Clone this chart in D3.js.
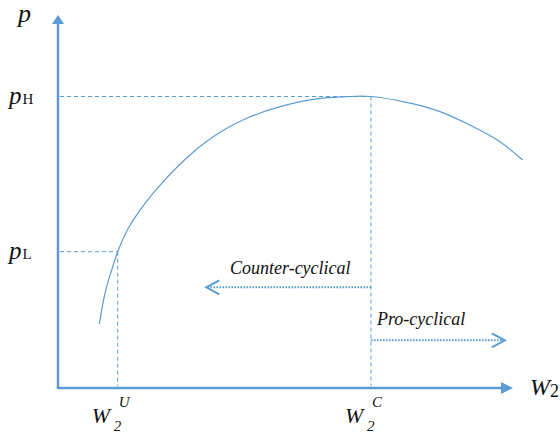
<!DOCTYPE html>
<html><head><meta charset="utf-8">
<script src="https://cdnjs.cloudflare.com/ajax/libs/d3/7.8.5/d3.min.js"></script>
<style>
html,body{margin:0;padding:0;background:#fff;}
svg{display:block;}
svg text{font-family:"Liberation Serif";}
</style></head>
<body>
<script>
// ---- data (abstract units) ----
const curveW = [9.08, 10.33, 11.80, 13.12, 15.45, 19.12, 22.79, 27.91, 34.13, 41.47, 48.79, 56.11, 63.45, 68.79, 76.64, 83.96, 91.27, 97.14, 102.13];
const curveP = [17.16, 25.39, 31.64, 36.54, 42.81, 49.52, 54.88, 61.26, 67.37, 72.31, 75.42, 77.40, 78.10, 78.15, 76.59, 74.08, 70.05, 66.03, 61.13];
const wMarks = [13.12, 68.79];          // W2^U, W2^C
const wMarkSup = ["U", "C"];
const pMarks = [78.15, 36.54];          // pH, pL
const pMarkSub = ["H", "L"];
const arrowLabels = ["Counter-cyclical", "Pro-cyclical"];
const arrowLevels = [27.0, 12.8];       // p-levels of the dotted arrows
const arrowEnds = [32.6, 98.2];         // W where arrows point to

const W = 560, H = 433;
const blue = "#5B9BD5";
const SERIF = "Liberation Serif";
const svg = d3.select("body").append("svg").attr("width", W).attr("height", H);

const x = d3.scaleLinear().domain([0, 100]).range([58, 513]);
const y = d3.scaleLinear().domain([0, 100]).range([388, 15]);

function txt(sel) { return sel.append("text").attr("font-family", SERIF).attr("fill", "#111"); }

// axes
const [x0, x1] = x.range();
const [y0, y1] = y.range();
svg.append("line").attr("x1", x0).attr("y1", y0).attr("x2", x0).attr("y2", y1 + 8)
  .attr("stroke", blue).attr("stroke-width", 2.5);
svg.append("line").attr("x1", x0 - 1.2).attr("y1", y0).attr("x2", x1 - 10).attr("y2", y0)
  .attr("stroke", blue).attr("stroke-width", 2.5);
svg.append("path").attr("d", `M${x0},${y1} L${x0 - 6},${y1 + 9} L${x0 + 6},${y1 + 9} Z`).attr("fill", blue);
svg.append("path").attr("d", `M${x1},${y0} L${x1 - 12},${y0 - 6} L${x1 - 12},${y0 + 6} Z`).attr("fill", blue);

// dashed guides
pMarks.forEach((p, i) => {
  const w = wMarks[i === 0 ? 1 : 0];
  svg.append("line").attr("x1", x0 + 2).attr("x2", x(w)).attr("y1", y(p)).attr("y2", y(p))
    .attr("stroke", blue).attr("stroke-width", 1).attr("stroke-dasharray", "4,3");
  svg.append("line").attr("x1", x(w)).attr("x2", x(w)).attr("y1", y(p)).attr("y2", y0 - 2)
    .attr("stroke", blue).attr("stroke-width", 1).attr("stroke-dasharray", "4,3");
});

// curve
const pts = curveW.map((w, i) => [w, curveP[i]]);
const line = d3.line().x(d => x(d[0])).y(d => y(d[1])).curve(d3.curveNatural);
svg.append("path").datum(pts).attr("d", line).attr("fill", "none")
  .attr("stroke", blue).attr("stroke-width", 1.2);

// dotted arrows
const wStart = wMarks[1];
arrowLevels.forEach((lv, i) => {
  const xe = x(arrowEnds[i]), xs = x(wStart), yy = y(lv);
  const dir = xe < xs ? -1 : 1;
  svg.append("line").attr("x1", xs).attr("x2", xe - dir * 1).attr("y1", yy).attr("y2", yy)
    .attr("stroke", blue).attr("stroke-width", 2).attr("stroke-dasharray", "1.6,1.4");
  svg.append("path").attr("d", `M${xe - dir * 13},${yy - 7} L${xe},${yy} L${xe - dir * 13},${yy + 7}`)
    .attr("fill", "none").attr("stroke", blue).attr("stroke-width", 2);
});
txt(svg).attr("x", 230).attr("y", 274).attr("font-size", 18).attr("font-style", "italic").text(arrowLabels[0]);
txt(svg).attr("x", 377).attr("y", 325).attr("font-size", 18).attr("font-style", "italic").text(arrowLabels[1]);

// axis titles
txt(svg).attr("x", 18).attr("y", 22).attr("font-size", 26).attr("font-style", "italic").text("p");
const wt = txt(svg).attr("x", 530).attr("y", 395);
wt.append("tspan").attr("font-size", 24).attr("font-style", "italic").text("W");
wt.append("tspan").attr("font-size", 18).attr("dy", 2).text("2");

// p tick labels
pMarks.forEach((p, i) => {
  const t = txt(svg).attr("x", 9).attr("y", y(p) + 7);
  t.append("tspan").attr("font-size", 25).attr("font-style", "italic").text("p");
  t.append("tspan").attr("font-size", 15).attr("dx", 1).text(pMarkSub[i]);
});

// W tick labels
wMarks.forEach((w, i) => {
  const cx = x(w);
  txt(svg).attr("x", cx - 26).attr("y", 423).attr("font-size", 22).attr("font-style", "italic").text("W");
  txt(svg).attr("x", cx - 4).attr("y", 431).attr("font-size", 15).attr("font-style", "italic").text("2");
  txt(svg).attr("x", cx + 1).attr("y", 407).attr("font-size", 15).attr("font-style", "italic").text(wMarkSup[i]);
});
</script>
</body></html>
